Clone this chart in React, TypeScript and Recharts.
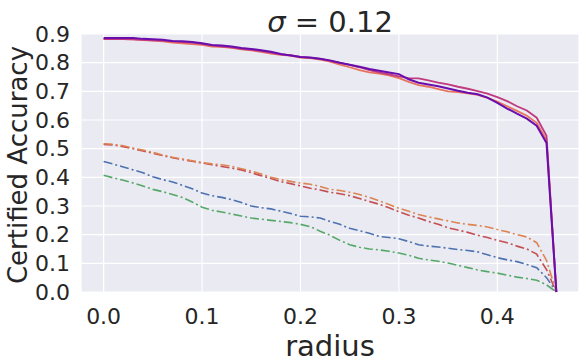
import React from "react";
import { LineChart, Line, XAxis, YAxis, CartesianGrid } from "recharts";

const radius = [
  0, 0.01, 0.02, 0.03, 0.04, 0.05, 0.06, 0.07, 0.08, 0.09,
  0.1, 0.11, 0.12, 0.13, 0.14, 0.15, 0.16, 0.17, 0.18, 0.19,
  0.2, 0.21, 0.22, 0.23, 0.24, 0.25, 0.26, 0.27, 0.28, 0.29,
  0.3, 0.31, 0.32, 0.33, 0.34, 0.35, 0.36, 0.37, 0.38, 0.39,
  0.4, 0.41, 0.42, 0.43, 0.44, 0.45, 0.46,
];

const purple = [
  0.886, 0.886, 0.886, 0.886, 0.883, 0.882, 0.88, 0.876, 0.875, 0.872,
  0.868, 0.862, 0.86, 0.856, 0.851, 0.848, 0.843, 0.838, 0.83, 0.825,
  0.82, 0.818, 0.814, 0.808, 0.8, 0.793, 0.786, 0.778, 0.772, 0.766,
  0.76, 0.742, 0.73, 0.724, 0.718, 0.71, 0.702, 0.695, 0.69, 0.678,
  0.66, 0.64, 0.622, 0.605, 0.58, 0.52, 0,
];

const magenta = [
  0.882, 0.882, 0.882, 0.881, 0.88, 0.878, 0.877, 0.874, 0.872, 0.87,
  0.866, 0.86, 0.856, 0.853, 0.848, 0.845, 0.84, 0.835, 0.829, 0.826,
  0.82, 0.817, 0.813, 0.806, 0.799, 0.792, 0.784, 0.774, 0.766, 0.759,
  0.752, 0.746, 0.745, 0.738, 0.73, 0.724, 0.716, 0.709, 0.701, 0.692,
  0.68, 0.666, 0.648, 0.633, 0.608, 0.545, 0,
];

const salmon = [
  0.882, 0.882, 0.882, 0.881, 0.879, 0.877, 0.874, 0.87, 0.867, 0.865,
  0.862, 0.856, 0.855, 0.852, 0.846, 0.843, 0.838, 0.832, 0.827, 0.825,
  0.818, 0.816, 0.811, 0.804, 0.793, 0.784, 0.774, 0.766, 0.762, 0.756,
  0.746, 0.733, 0.722, 0.716, 0.708, 0.7, 0.697, 0.693, 0.688, 0.677,
  0.664, 0.648, 0.632, 0.615, 0.59, 0.53, 0,
];

const orange = [
  0.517, 0.515, 0.51, 0.502, 0.495, 0.487, 0.478, 0.47, 0.464, 0.458,
  0.452, 0.447, 0.444, 0.438, 0.43, 0.422, 0.412, 0.4, 0.392, 0.386,
  0.38, 0.376, 0.368, 0.358, 0.354, 0.348, 0.34, 0.33, 0.318, 0.305,
  0.292, 0.282, 0.27, 0.262, 0.255, 0.248, 0.241, 0.236, 0.232, 0.227,
  0.218, 0.21, 0.2, 0.192, 0.172, 0.11, 0,
];

const red = [
  0.515, 0.513, 0.507, 0.5, 0.492, 0.484, 0.476, 0.468, 0.462, 0.456,
  0.45, 0.444, 0.438, 0.432, 0.426, 0.416, 0.406, 0.396, 0.385, 0.378,
  0.37, 0.362, 0.356, 0.348, 0.343, 0.336, 0.326, 0.316, 0.306, 0.294,
  0.28, 0.268, 0.258, 0.246, 0.236, 0.224, 0.216, 0.208, 0.198, 0.19,
  0.18, 0.172, 0.16, 0.15, 0.132, 0.078, 0,
];

const blue = [
  0.455, 0.446, 0.436, 0.426, 0.416, 0.402, 0.392, 0.384, 0.372, 0.36,
  0.345, 0.336, 0.33, 0.322, 0.312, 0.3, 0.294, 0.29, 0.282, 0.274,
  0.264, 0.262, 0.258, 0.246, 0.236, 0.222, 0.214, 0.205, 0.194, 0.19,
  0.186, 0.176, 0.165, 0.16, 0.157, 0.153, 0.148, 0.145, 0.14, 0.13,
  0.12, 0.112, 0.106, 0.096, 0.085, 0.05, 0,
];

const green = [
  0.407, 0.398, 0.39, 0.38, 0.37, 0.358, 0.35, 0.34, 0.33, 0.314,
  0.296, 0.285, 0.279, 0.272, 0.265, 0.258, 0.254, 0.25, 0.246, 0.242,
  0.236, 0.228, 0.212, 0.198, 0.18, 0.165, 0.156, 0.15, 0.147, 0.142,
  0.136, 0.128, 0.118, 0.112, 0.107, 0.101, 0.093, 0.085, 0.077, 0.071,
  0.066, 0.059, 0.052, 0.047, 0.041, 0.025, 0,
];

const xTicks = [0, 0.1, 0.2, 0.3, 0.4];
const yTicks = [0, 0.1, 0.2, 0.3, 0.4, 0.5, 0.6, 0.7, 0.8, 0.9];

const data = radius.map((r, i) => ({
  r,
  purple: purple[i],
  magenta: magenta[i],
  salmon: salmon[i],
  orange: orange[i],
  red: red[i],
  blue: blue[i],
  green: green[i],
}));

const FONT = "DejaVu Sans";
const TXT = "#262626";
const DASH = "9 3 2 3";

export default function App() {
  return (
    <div style={{ position: "absolute", left: 0, top: 0, width: 586, height: 362, background: "#fff" }}>
      <LineChart
        width={586}
        height={362}
        data={data}
        margin={{ top: 34, right: 7, bottom: 0, left: 0 }}
      >
        <CartesianGrid fill="#EAEAF2" stroke="#FFFFFF" strokeWidth={1.2} />
        <XAxis
          dataKey="r"
          type="number"
          domain={[-0.023, 0.483]}
          ticks={xTicks}
          interval={0}
          tickFormatter={(v: number) => v.toFixed(1)}
          axisLine={false}
          tickLine={false}
          tickMargin={10}
          height={70}
          tick={{ fill: TXT, fontSize: 22, fontFamily: FONT }}
          label={{
            content: () => (
              <text x={330} y={356} textAnchor="middle" fill={TXT} fontSize={29} fontFamily={FONT}>
                radius
              </text>
            ),
          }}
        />
        <YAxis
          type="number"
          domain={[0, 0.9]}
          ticks={yTicks}
          interval={0}
          tickFormatter={(v: number) => v.toFixed(1)}
          axisLine={false}
          tickLine={false}
          tickMargin={5}
          width={81}
          tick={{ fill: TXT, fontSize: 22, fontFamily: FONT }}
          label={{
            content: () => (
              <g>
                <text
                  x={27}
                  y={165}
                  transform="rotate(-90 27 165)"
                  textAnchor="middle"
                  fill={TXT}
                  fontSize={26}
                  fontFamily={FONT}
                >
                  Certified Accuracy
                </text>
                <text x={330} y={32} textAnchor="middle" fill={TXT} fontSize={29} fontFamily={FONT}>
                  <tspan fontStyle="italic">σ</tspan>
                  <tspan> = 0.12</tspan>
                </text>
              </g>
            ),
          }}
        />
        <Line dataKey="green" stroke="#55A868" strokeWidth={1.6} strokeDasharray={DASH} dot={false} isAnimationActive={false} />
        <Line dataKey="blue" stroke="#4C72B0" strokeWidth={1.6} strokeDasharray={DASH} dot={false} isAnimationActive={false} />
        <Line dataKey="red" stroke="#C44E52" strokeWidth={1.6} strokeDasharray={DASH} dot={false} isAnimationActive={false} />
        <Line dataKey="orange" stroke="#DD8452" strokeWidth={1.6} strokeDasharray={DASH} dot={false} isAnimationActive={false} />
        <Line dataKey="salmon" stroke="#E8735F" strokeWidth={1.8} dot={false} isAnimationActive={false} />
        <Line dataKey="magenta" stroke="#C03A80" strokeWidth={1.8} dot={false} isAnimationActive={false} />
        <Line dataKey="purple" stroke="#6A0DAD" strokeWidth={2} dot={false} isAnimationActive={false} />
      </LineChart>
    </div>
  );
}
